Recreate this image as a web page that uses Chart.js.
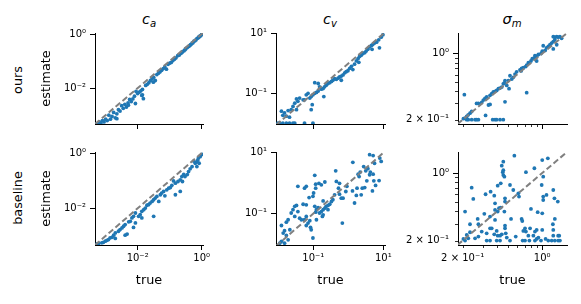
<!DOCTYPE html>
<html><head><meta charset="utf-8">
<script src="https://cdn.jsdelivr.net/npm/chart.js@4.4.0/dist/chart.umd.min.js"></script>
<style>
html,body{margin:0;padding:0;background:#fff;}
body{width:581px;height:304px;position:relative;overflow:hidden;font-family:"DejaVu Sans",sans-serif;color:#000;}
canvas{position:absolute;}
.ttl{position:absolute;top:11px;width:120px;font-size:14.5px;line-height:16px;text-align:center;white-space:nowrap;}
.ttl i{font-style:italic;}
.ttl sub{font-size:70%;line-height:0;vertical-align:-0.3em;font-style:italic;}
.row{position:absolute;font-size:12.8px;line-height:15px;white-space:nowrap;transform:translate(-50%,-50%) rotate(-90deg);}
</style></head><body>
<div class="ttl" style="left:89px"><i>c</i><sub>a</sub></div>
<div class="ttl" style="left:270px"><i>c</i><sub>v</sub></div>
<div class="ttl" style="left:452px"><i>σ</i><sub>m</sub></div>
<div class="row" style="left:17px;top:80px">ours</div>
<div class="row" style="left:17px;top:198px">baseline</div>
<script>
// ---------- data ----------
const caTicks = [0.01, 1];
const caTickLabels = ['10⁻²', '10⁰'];
const cvTicks = [0.1, 10];
const cvTickLabels = ['10⁻¹', '10¹'];
const smTicks = [0.2, 1];
const smTickLabels = ['2 × 10⁻¹', '10⁰'];
const smMinorTicks = [0.2, 0.3, 0.4, 0.5, 0.6, 0.7, 0.8, 0.9];

const caXRange = [4.65e-4, 1.10];
const caYRange = [4.7e-4, 1.09];
const cvXRange = [0.0086, 11.2];
const cvYRange = [0.0093, 10.7];
const smXRange = [0.182, 1.65];
const smYRange = [0.180, 1.65];

const caDiag = [4.65e-4, 1.10];
const cvDiag = [0.0086, 11.2];
const smDiag = [0.18, 1.65];

// c_a, ours
const caOursTrue = [1.00,0.933,0.871,0.813,0.759,0.708,0.661,0.617,0.575,0.537,
 0.501,0.468,0.427,0.398,0.355,0.316,0.282,0.251,0.224,0.200,
 0.178,0.158,0.141,0.126,0.112,0.100,0.0891,0.0794,0.0708,0.0631,
 0.0562,0.0501,0.0447,0.0355,0.0398,0.0316,0.0282,0.0251,0.0224,0.0200,
 0.0178,0.0141,0.0141,0.0126,0.0112,0.0100,0.00891,0.00794,0.00708,0.00631,
 0.00562,0.00501,0.00447,0.00398,0.00355,0.00316,0.00282,0.00251,0.00224,0.00200,
 0.00178,0.00158,0.00141,0.00126,0.00112,0.00100,0.000891,0.000794,0.000708,0.000631,
 0.000562,0.000501,0.0135,0.00851,0.00224,0.0151,0.0309,0.00513,0.447,0.832,0.240,0.302];
const caOursEst = [0.955,0.871,0.832,0.759,0.708,0.676,0.603,0.562,0.550,0.479,
 0.457,0.417,0.380,0.347,0.316,0.282,0.240,0.219,0.191,0.166,
 0.158,0.132,0.117,0.105,0.0891,0.0832,0.0759,0.0501,0.0603,0.0525,
 0.0457,0.0398,0.0355,0.0191,0.0316,0.0251,0.0219,0.0191,0.0158,0.0138,
 0.0126,0.00891,0.00562,0.00794,0.00708,0.00631,0.00759,0.00501,0.00398,0.00316,
 0.00380,0.00282,0.00200,0.00251,0.00178,0.00224,0.00141,0.00158,0.00112,0.000794,
 0.00126,0.000891,0.000708,0.00100,0.000631,0.000708,0.000562,0.000631,0.000501,0.000562,
 0.000479,0.000468,0.00537,0.00269,0.000741,0.00407,0.0166,0.00234,0.398,0.794,0.209,0.263];

// c_a, baseline
const caBaseTrue = [1.02,0.912,0.794,0.759,0.708,0.631,0.562,0.832,0.708,0.501,
 0.437,0.389,0.275,0.240,0.214,0.251,0.182,0.151,0.132,0.117,
 0.105,0.0933,0.214,0.151,0.0813,0.0646,0.0513,0.0398,0.0355,0.0316,
 0.0457,0.0282,0.0245,0.0219,0.0195,0.0316,0.0174,0.0155,0.0135,0.0120,
 0.0107,0.0135,0.00851,0.00741,0.00661,0.00589,0.00525,0.00851,0.00407,0.00741,
 0.00363,0.00324,0.00282,0.00251,0.00200,0.00178,0.00158,0.00138,0.00200,0.00123,
 0.00110,0.000977,0.000851,0.000759,0.000603,0.000537,0.00407,0.00468,0.891,0.355,
 0.302,0.0708,0.0562];
const caBaseEst = [0.891,0.794,0.676,0.562,0.490,0.427,0.513,0.427,0.324,0.324,
 0.269,0.214,0.170,0.141,0.107,0.0933,0.0933,0.0813,0.0977,0.0676,
 0.0562,0.0537,0.0407,0.0309,0.0468,0.0407,0.0309,0.0269,0.0234,0.0204,
 0.0178,0.0178,0.0155,0.0135,0.0129,0.00513,0.0102,0.00891,0.00776,0.00589,
 0.00513,0.00447,0.00676,0.00513,0.00447,0.00339,0.00324,0.00295,0.00257,0.00204,
 0.00224,0.00195,0.00170,0.00148,0.00129,0.00107,0.000891,0.000851,0.000813,0.000741,
 0.000692,0.000646,0.000589,0.000562,0.000537,0.000513,0.00107,0.00117,0.741,0.166,
 0.141,0.0282,0.0355];

// c_v, ours
const cvOursTrue = [9.77,8.71,7.41,6.46,5.62,5.01,4.57,7.76,4.79,4.07,
 3.63,3.24,2.95,2.63,2.34,2.09,1.91,1.70,2.00,1.51,
 1.35,1.23,1.10,0.977,0.871,0.794,0.708,0.631,0.562,0.631,
 0.513,0.457,0.407,0.363,0.331,0.295,0.263,0.234,0.209,0.191,
 0.170,0.151,0.138,0.110,0.200,0.138,0.123,0.110,0.0977,0.0871,
 0.0794,0.0708,0.0631,0.0562,0.0513,0.0407,0.0331,0.0363,0.0295,0.0263,
 0.0871,0.0933,0.0331,0.0234,0.0191,0.0151,0.0123,0.0135,0.0170,0.0209,
 0.0135,0.0170,0.0263,0.0295,0.0562,0.0977,0.00977,0.0110,0.0209];
const cvOursEst = [9.33,7.76,6.31,5.25,4.90,4.37,4.07,3.39,3.02,3.63,
 3.02,2.63,2.34,2.19,1.91,1.74,1.48,1.23,1.10,0.955,
 0.631,0.813,0.692,0.575,0.537,0.490,0.417,0.380,0.355,0.275,
 0.324,0.295,0.309,0.275,0.251,0.229,0.214,0.186,0.166,0.145,
 0.138,0.166,0.214,0.229,0.0776,0.120,0.107,0.100,0.0891,0.0776,
 0.0692,0.100,0.0891,0.0603,0.0603,0.0692,0.0646,0.0537,0.0468,0.0363,
 0.0282,0.0417,0.0282,0.0282,0.0263,0.0219,0.0251,0.0182,0.0170,0.0158,
 0.01,0.01,0.01,0.01,0.01,0.01,0.01,0.01,0.01];

// c_v, baseline
const cvBaseTrue = [4.07,5.13,7.94,8.71,5.62,1.35,2.75,2.19,1.91,2.04,
 3.16,3.63,4.27,4.07,5.13,7.59,5.37,3.39,6.03,4.90,
 1.78,2.51,1.51,2.34,2.95,1.70,1.32,0.912,0.851,0.708,
 0.631,0.562,0.525,0.457,0.407,0.363,0.331,0.295,0.263,0.234,
 0.191,0.214,0.263,0.191,0.170,0.151,0.138,0.123,0.117,0.191,
 0.182,0.123,0.110,0.0977,0.102,0.117,0.145,0.170,0.214,0.110,
 0.437,0.562,0.0363,0.0562,0.0631,0.117,0.0759,0.0631,0.0513,0.0331,
 0.0295,0.0363,0.0407,0.0562,0.0631,0.0794,0.0708,0.0832,0.0871,0.0631,
 0.0457,0.676,0.0977,0.0263,0.0234,0.0295,0.0191,0.0170,0.0214,0.0151,
 0.0123,0.0138,0.0170,0.0191,0.0123,0.0151,0.0110];
const cvBaseEst = [8.71,8.13,6.76,5.25,4.57,4.90,3.55,2.34,2.00,1.66,
 2.57,3.02,2.34,1.91,2.00,1.23,1.20,1.20,0.851,0.562,
 0.692,0.692,0.224,0.417,0.724,0.398,0.562,0.794,0.537,0.324,
 0.324,0.437,0.692,1.15,0.417,0.288,0.251,0.204,0.186,0.174,
 0.263,0.151,0.135,0.135,0.117,0.105,0.158,0.135,0.112,0.0912,
 0.0813,0.0631,0.174,0.372,0.479,0.933,1.00,0.891,1.10,1.82,
 2.57,1.00,0.794,0.692,0.794,0.692,0.339,0.195,0.204,0.186,
 0.174,0.117,0.0708,0.0631,0.0813,0.0589,0.0490,0.0355,0.0295,0.0407,
 0.0631,0.0490,0.0158,0.135,0.105,0.0813,0.0631,0.0525,0.0295,0.0275,
 0.0407,0.0229,0.0191,0.0138,0.0123,0.0107,0.0107];

// sigma_m, ours
const smOursTrue = [1.25,1.29,1.34,1.38,1.43,1.48,1.29,1.25,1.21,1.34,
 1.17,1.13,1.09,1.25,1.06,1.02,1.00,0.975,0.925,0.893,
 0.863,0.853,0.818,0.893,0.796,0.755,0.730,0.716,0.682,0.659,
 0.652,0.638,0.596,0.577,0.557,0.540,0.521,0.504,0.471,0.465,
 0.455,0.488,0.511,0.441,0.426,0.412,0.398,0.385,0.372,0.360,
 0.348,0.325,0.314,0.304,0.275,0.265,0.294,0.240,0.232,0.224,
 0.217,0.210,0.203,0.207,0.730,0.471,0.318,0.348,0.337,
 0.367,0.385,0.398,0.426,0.455,0.275,0.257,0.224,0.217,0.265,0.240];
const smOursEst = [1.51,1.49,1.51,1.49,1.51,1.45,1.40,1.34,1.29,1.24,
 1.24,1.19,1.15,1.12,1.08,1.21,1.06,1.00,0.977,0.938,
 0.953,0.902,0.881,0.834,0.834,0.802,0.752,0.728,0.711,0.695,
 0.656,0.673,0.641,0.607,0.561,0.538,0.583,0.518,0.518,0.490,
 0.479,0.460,0.425,0.442,0.432,0.425,0.408,0.399,0.393,0.377,
 0.362,0.348,0.335,0.322,0.297,0.297,0.304,0.244,0.234,0.225,
 0.216,0.208,0.205,0.368,0.386,0.309,0.222,0.290,0.286,
 0.2,0.2,0.2,0.2,0.2,0.2,0.2,0.2,0.2,0.2,0.2];

// sigma_m, baseline
const smBaseTrue = [0.569,0.455,0.441,0.455,0.450,0.465,0.455,0.432,0.406,0.210,
 0.240,0.248,0.318,0.352,0.379,0.385,0.406,0.417,0.432,0.471,
 0.521,0.557,0.617,0.625,0.719,0.853,1.02,1.00,1.12,0.989,
 1.02,1.02,1.25,1.28,1.37,1.09,0.796,0.912,1.00,0.659,
 0.532,0.465,0.385,0.348,0.310,0.271,0.275,0.232,0.232,0.275,
 0.294,0.325,0.348,0.360,0.379,0.398,0.406,0.426,0.441,0.471,
 0.471,0.478,0.488,0.521,0.585,0.668,0.706,0.682,0.719,0.782,
 0.755,0.836,0.863,0.893,0.893,0.925,1.00,1.07,1.25,1.24,
 1.29,1.38,1.41,1.25,0.217,0.224,0.210,0.257,0.203,
 0.325,0.398,0.426,0.673,0.706,0.771,0.863,0.975,1.13,1.21,1.29,1.38,1.43,0.348,
 0.385,0.471];
const smBaseEst = [1.51,1.31,1.19,1.07,1.02,0.916,0.953,0.782,0.740,0.399,
 0.706,0.540,0.603,0.641,0.583,0.486,0.399,0.432,0.439,0.547,
 0.752,0.667,0.617,0.570,1.02,1.12,0.916,1.36,1.42,0.752,
 0.570,0.526,0.667,0.547,0.506,0.593,0.425,0.393,0.383,0.335,
 0.335,0.399,0.415,0.354,0.378,0.335,0.295,0.295,0.244,0.220,
 0.248,0.238,0.268,0.268,0.232,0.252,0.225,0.225,0.232,0.268,
 0.286,0.238,0.215,0.2,0.220,0.319,0.268,0.252,0.248,0.268,
 0.225,0.225,0.248,0.258,0.208,0.215,0.258,0.208,0.258,0.295,
 0.335,0.225,0.225,0.225,0.229,0.211,0.2,0.211,0.208,
 0.2,0.2,0.2,0.2,0.2,0.2,0.2,0.2,0.2,0.2,0.2,0.2,0.2,0.2,
 0.327,0.506];

// ---------- layout / drawing ----------
Chart.defaults.font.family = "'DejaVu Sans', sans-serif";
Chart.defaults.color = '#000';

const COLS = [{left:95,w:108},{left:276,w:109},{left:458,w:109}];
const ROWS = [{top:33,h:93,bh:8},{top:152,h:93,bh:43}];
const LW = 56, TP = 10, RP = 16;

const minorPlugin = {
  id: 'minorTicks',
  afterDatasetsDraw(chart, args, opts) {
    if (!opts || !opts.values) return;
    const xs = chart.scales.x, ys = chart.scales.y, ctx = chart.ctx;
    ctx.save();
    ctx.strokeStyle = '#000';
    ctx.lineWidth = 0.8;
    ctx.beginPath();
    opts.values.forEach(v => {
      const px = Math.round(xs.getPixelForValue(v)) + 0.5;
      ctx.moveTo(px, ys.bottom); ctx.lineTo(px, ys.bottom + 3);
      const py = Math.round(ys.getPixelForValue(v)) + 0.5;
      ctx.moveTo(xs.left, py); ctx.lineTo(xs.left - 3, py);
    });
    ctx.stroke();
    ctx.restore();
  }
};

function panel(col, row, cfg) {
  const c = COLS[col], r = ROWS[row];
  const cv = document.createElement('canvas');
  const W = LW + c.w + RP, H = TP + r.h + r.bh;
  cv.width = W; cv.height = H;
  cv.style.left = (c.left - LW) + 'px';
  cv.style.top = (r.top - TP) + 'px';
  cv.style.width = W + 'px'; cv.style.height = H + 'px';
  document.body.appendChild(cv);
  const pts = cfg.tru.map((t, i) => ({x: t, y: cfg.est[i]}));
  const hideSmall = cfg.minor ? (ctx => (ctx.tick && ctx.tick.value < 0.5) ? 'rgba(0,0,0,0)' : '#000') : '#000';
  const axisCommon = (range, ticks) => ({
    type: 'logarithmic', min: range[0], max: range[1], bounds: 'data',
    afterBuildTicks: s => { s.ticks = ticks.map(v => ({value: v})); },
    grid: {drawOnChartArea: false, drawTicks: true, tickLength: 5, tickWidth: 1, tickColor: hideSmall},
    border: {display: true, color: '#000', width: 1}
  });
  const xAx = axisCommon(cfg.xr, cfg.ticks);
  xAx.afterFit = s => { s.height = r.bh; };
  xAx.ticks = {display: row === 1, autoSkip: false, maxRotation: 0, minRotation: 0, padding: 2,
    font: {size: 10}, color: '#000', callback: (v, i) => cfg.labels[i]};
  xAx.title = {display: row === 1, text: 'true', font: {size: 12.8}, color: '#000', padding: 0};
  const yAx = axisCommon(cfg.yr, cfg.ticks);
  yAx.afterFit = s => { s.width = LW; };
  yAx.ticks = {display: true, autoSkip: false, padding: 4, font: {size: 10}, color: '#000',
    callback: (v, i) => cfg.labels[i]};
  yAx.title = {display: col === 0, text: 'estimate', font: {size: 12.8}, color: '#000', padding: 0};

  new Chart(cv, {
    type: 'scatter',
    data: {datasets: [
      {data: [{x: cfg.diag[0], y: cfg.diag[0]}, {x: cfg.diag[1], y: cfg.diag[1]}],
       showLine: true, borderColor: '#808080', borderWidth: 2, borderDash: [6, 3],
       pointRadius: 0, clip: 0, order: 0},
      {data: pts, backgroundColor: '#1f77b4', borderColor: '#1f77b4', borderWidth: 0,
       pointRadius: 1.9, clip: 0, order: 1}
    ]},
    options: {
      responsive: false, animation: false, events: [],
      layout: {padding: {top: TP, right: RP, left: 0, bottom: 0}, autoPadding: false},
      plugins: {legend: {display: false}, tooltip: {enabled: false}, title: {display: false},
        minorTicks: cfg.minor ? {values: cfg.minor} : {}},
      scales: {x: xAx, y: yAx}
    },
    plugins: [minorPlugin]
  });
}

panel(0, 0, {tru: caOursTrue, est: caOursEst, xr: caXRange, yr: caYRange, diag: caDiag, ticks: caTicks, labels: caTickLabels});
panel(1, 0, {tru: cvOursTrue, est: cvOursEst, xr: cvXRange, yr: cvYRange, diag: cvDiag, ticks: cvTicks, labels: cvTickLabels});
panel(2, 0, {tru: smOursTrue, est: smOursEst, xr: smXRange, yr: smYRange, diag: smDiag, ticks: smTicks, labels: smTickLabels, minor: smMinorTicks});
panel(0, 1, {tru: caBaseTrue, est: caBaseEst, xr: caXRange, yr: caYRange, diag: caDiag, ticks: caTicks, labels: caTickLabels});
panel(1, 1, {tru: cvBaseTrue, est: cvBaseEst, xr: cvXRange, yr: cvYRange, diag: cvDiag, ticks: cvTicks, labels: cvTickLabels});
panel(2, 1, {tru: smBaseTrue, est: smBaseEst, xr: smXRange, yr: smYRange, diag: smDiag, ticks: smTicks, labels: smTickLabels, minor: smMinorTicks});
</script>
</body></html>
